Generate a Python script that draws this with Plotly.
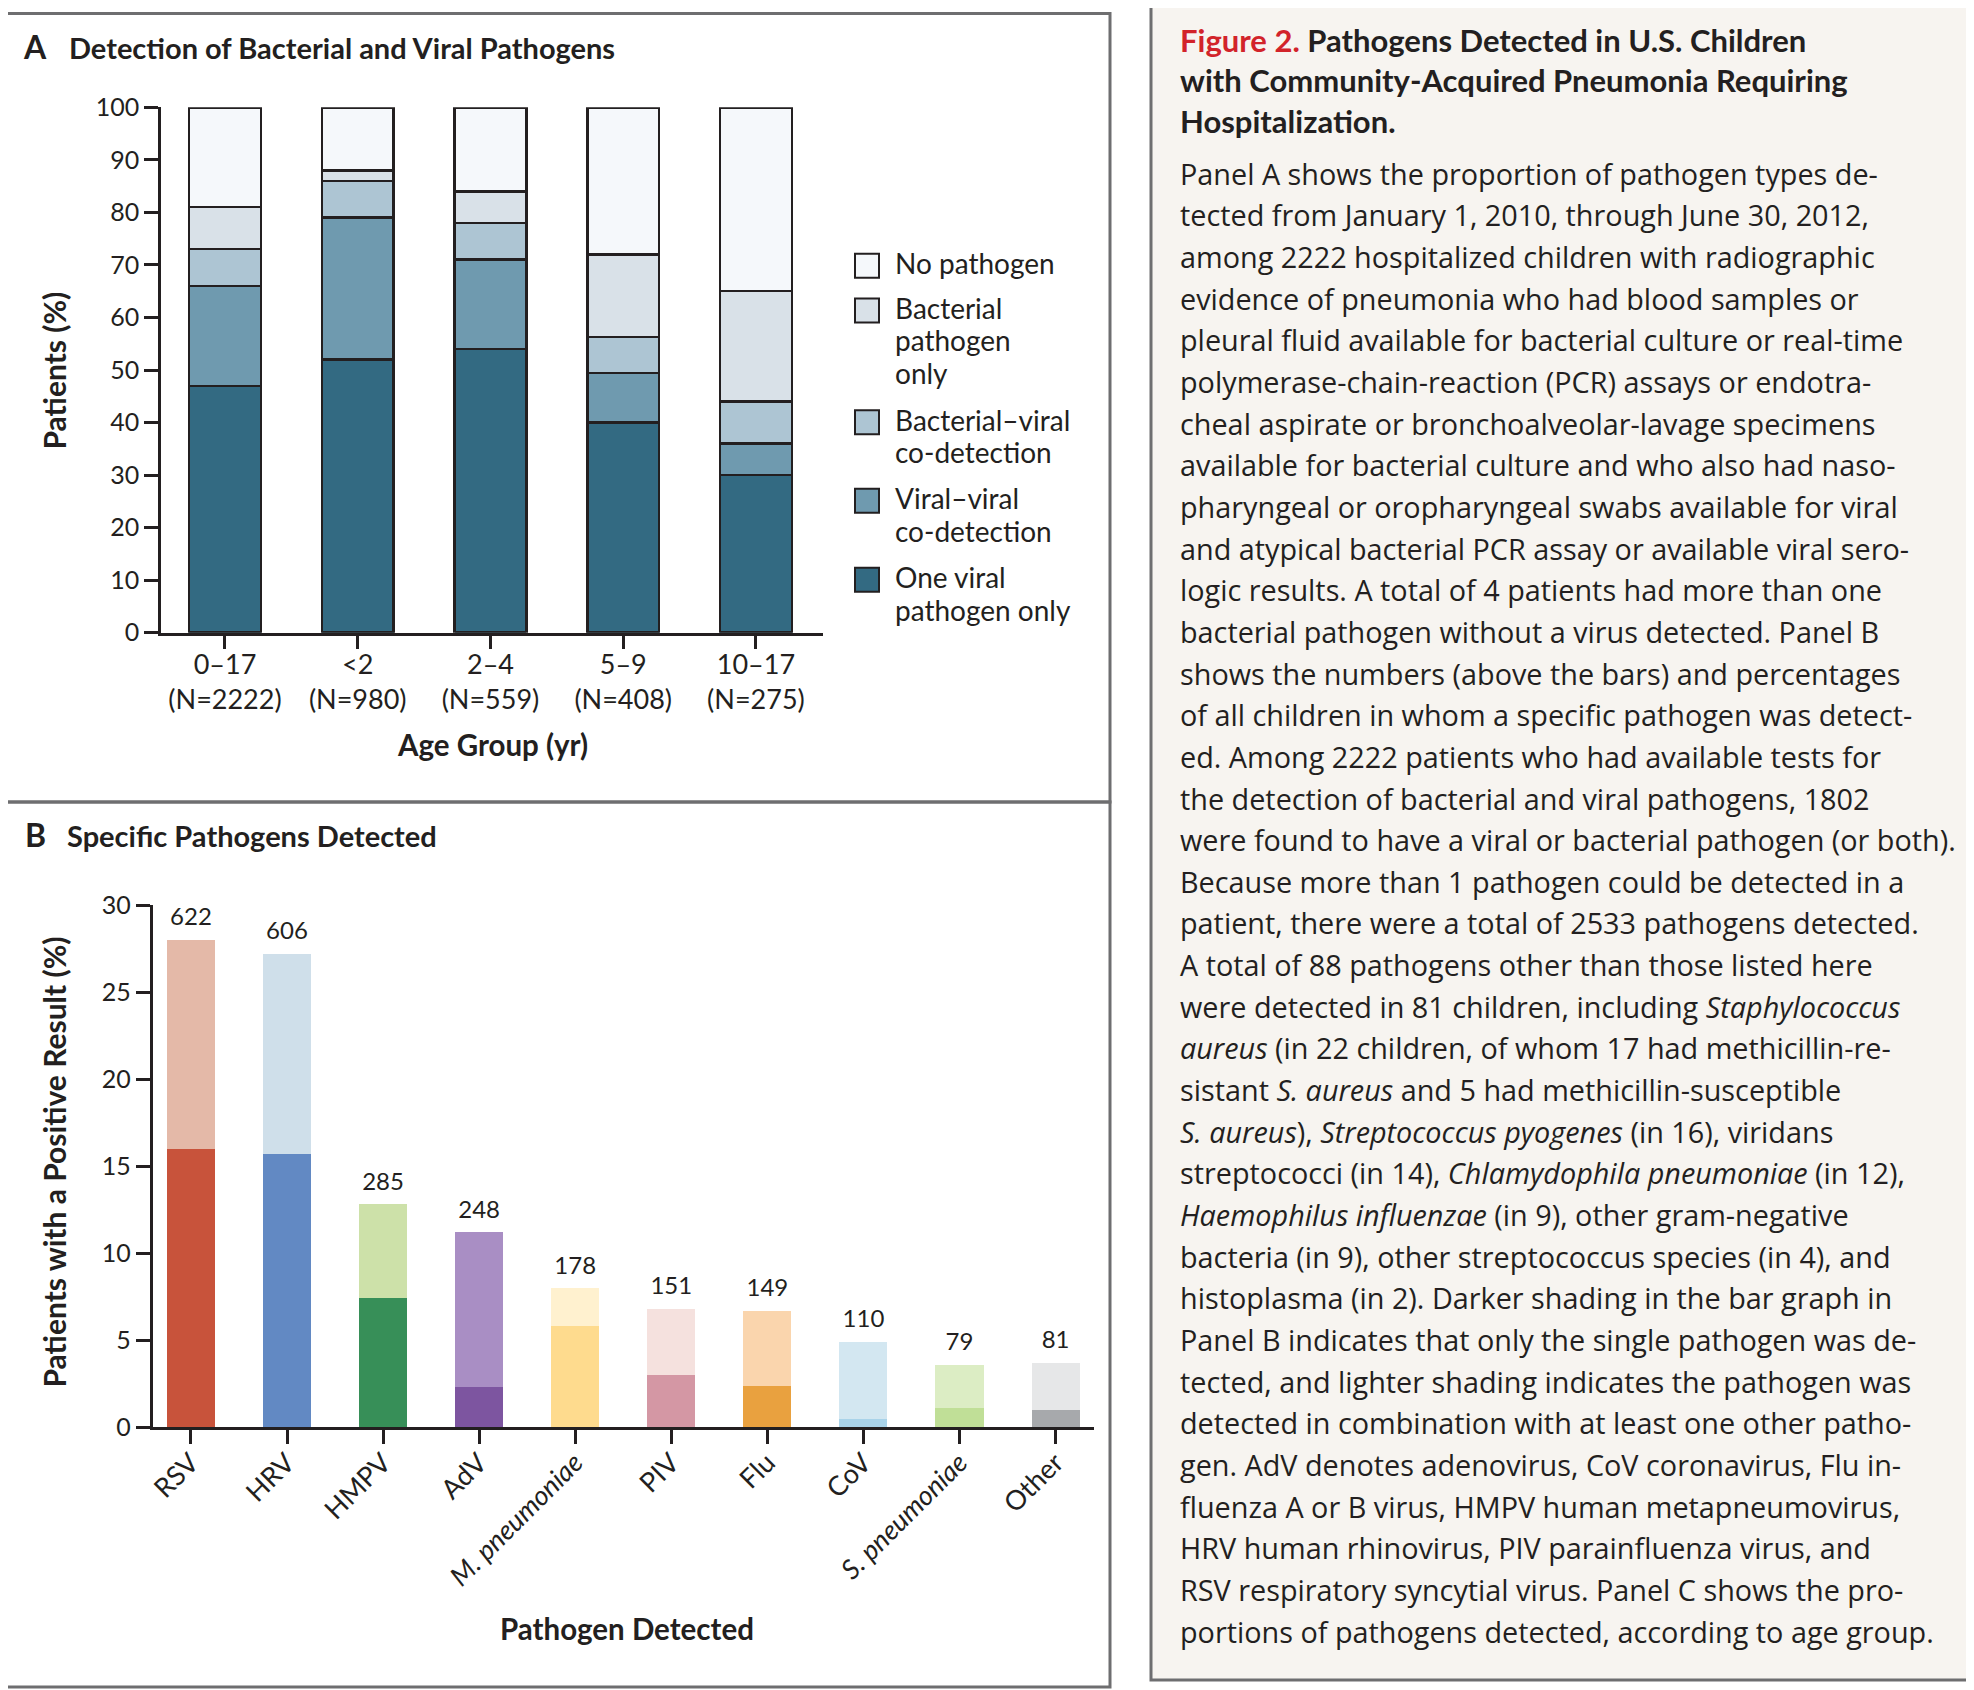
import plotly.graph_objects as go

# ---------------- data ----------------
age_groups = ["0–17", "&lt;2", "2–4", "5–9", "10–17"]
age_n = [2222, 980, 559, 408, 275]

# Panel A segments, bottom to top (percent of patients)
one_viral = [47, 52, 54, 40, 30]
viral_viral = [19, 27, 17, 9.4, 6]
bact_viral = [7, 7, 7, 6.9, 8]
bact_only = [8, 2, 6, 15.7, 21]
no_pathogen = [19, 12, 16, 28, 35]

seg_names = ["One viral pathogen only", "Viral–viral co-detection",
             "Bacterial–viral co-detection", "Bacterial pathogen only", "No pathogen"]
seg_colors = ["#336a82", "#6f9aaf", "#adc5d3", "#d9e1e8", "#f5f8fb"]
legend_lines = {
    "No pathogen": ["No pathogen"],
    "Bacterial pathogen only": ["Bacterial", "pathogen", "only"],
    "Bacterial–viral co-detection": ["Bacterial–viral", "co-detection"],
    "Viral–viral co-detection": ["Viral–viral", "co-detection"],
    "One viral pathogen only": ["One viral", "pathogen only"],
}

# Panel B
pathogens = ["RSV", "HRV", "HMPV", "AdV", "M. pneumoniae", "PIV", "Flu", "CoV",
             "S. pneumoniae", "Other"]
italic_names = {"M. pneumoniae", "S. pneumoniae"}
counts = [622, 606, 285, 248, 178, 151, 149, 110, 79, 81]
single_pct = [16.0, 15.7, 7.4, 2.3, 5.8, 3.0, 2.4, 0.5, 1.1, 1.0]
combined_pct = [12.0, 11.5, 5.4, 8.9, 2.2, 3.8, 4.3, 4.4, 2.5, 2.7]
dark_colors = ["#c8533b", "#6289c3", "#378f58", "#7d55a0", "#fedb8e",
               "#d497a4", "#e9a13f", "#a9d3e9", "#c0df97", "#a7a9ac"]
light_colors = ["#e4b9a8", "#cfdfea", "#cde1a9", "#a98ec4", "#fff1cf",
                "#f5e1de", "#fad5ad", "#d3e7f1", "#dcedc4", "#e6e7e8"]

caption_title = [
    "<span style='color:#d2232a'>Figure 2.</span> Pathogens Detected in U.S. Children",
    "with Community-Acquired Pneumonia Requiring",
    "Hospitalization.",
]
caption_body = [
    "Panel A shows the proportion of pathogen types de-",
    "tected from January 1, 2010, through June 30, 2012,",
    "among 2222 hospitalized children with radiographic",
    "evidence of pneumonia who had blood samples or",
    "pleural fluid available for bacterial culture or real-time",
    "polymerase-chain-reaction (PCR) assays or endotra-",
    "cheal aspirate or bronchoalveolar-lavage specimens",
    "available for bacterial culture and who also had naso-",
    "pharyngeal or oropharyngeal swabs available for viral",
    "and atypical bacterial PCR assay or available viral sero-",
    "logic results. A total of 4 patients had more than one",
    "bacterial pathogen without a virus detected. Panel B",
    "shows the numbers (above the bars) and percentages",
    "of all children in whom a specific pathogen was detect-",
    "ed. Among 2222 patients who had available tests for",
    "the detection of bacterial and viral pathogens, 1802",
    "were found to have a viral or bacterial pathogen (or both).",
    "Because more than 1 pathogen could be detected in a",
    "patient, there were a total of 2533 pathogens detected.",
    "A total of 88 pathogens other than those listed here",
    "were detected in 81 children, including <i>Staphylococcus</i>",
    "<i>aureus</i> (in 22 children, of whom 17 had methicillin-re-",
    "sistant <i>S. aureus</i> and 5 had methicillin-susceptible",
    "<i>S. aureus</i>), <i>Streptococcus pyogenes</i> (in 16), viridans",
    "streptococci (in 14), <i>Chlamydophila pneumoniae</i> (in 12),",
    "<i>Haemophilus influenzae</i> (in 9), other gram-negative",
    "bacteria (in 9), other streptococcus species (in 4), and",
    "histoplasma (in 2). Darker shading in the bar graph in",
    "Panel B indicates that only the single pathogen was de-",
    "tected, and lighter shading indicates the pathogen was",
    "detected in combination with at least one other patho-",
    "gen. AdV denotes adenovirus, CoV coronavirus, Flu in-",
    "fluenza A or B virus, HMPV human metapneumovirus,",
    "HRV human rhinovirus, PIV parainfluenza virus, and",
    "RSV respiratory syncytial virus. Panel C shows the pro-",
    "portions of pathogens detected, according to age group.",
]

# ---------------- layout helpers ----------------
W, H = 1974, 1690
OFF = 8  # page body margin in the browser
def X(px):
    return (px - OFF) / W
def Y(py):
    return 1 - (py - OFF) / H

INK = "#231f20"
CHART_FONT = "Lato, 'DejaVu Sans', sans-serif"
BODY_FONT = "'Open Sans', 'Noto Sans', sans-serif"

fig = go.Figure()

# ---------------- Panel A ----------------
a_labels = [f"{g}<br>(N={n})" for g, n in zip(age_groups, age_n)]
a_series = [one_viral, viral_viral, bact_viral, bact_only, no_pathogen]
for name, vals, col in zip(seg_names, a_series, seg_colors):
    fig.add_trace(go.Bar(
        x=a_labels, y=vals, name=name, width=0.54,
        marker=dict(color=col, line=dict(color=INK, width=2.5)),
        xaxis="x", yaxis="y", cliponaxis=False, showlegend=False,
    ))

# ---------------- Panel B ----------------
fig.add_trace(go.Bar(
    x=pathogens, y=single_pct, width=0.5, name="Single pathogen",
    marker=dict(color=dark_colors, line=dict(width=0)),
    xaxis="x2", yaxis="y2", showlegend=False,
))
fig.add_trace(go.Bar(
    x=pathogens, y=combined_pct, width=0.5, name="With other pathogens",
    marker=dict(color=light_colors, line=dict(width=0)),
    xaxis="x2", yaxis="y2", showlegend=False,
))
totals = [s + c for s, c in zip(single_pct, combined_pct)]
fig.add_trace(go.Scatter(
    x=pathogens, y=totals, text=[str(c) for c in counts], mode="markers+text",
    marker=dict(size=12, opacity=0),
    textposition="top center", textfont=dict(family=CHART_FONT, size=24, color=INK),
    xaxis="x2", yaxis="y2", cliponaxis=False, showlegend=False, hoverinfo="skip",
))

axis_common = dict(showline=True, linecolor=INK, linewidth=2.5, ticks="outside",
                   ticklen=14, tickwidth=2.5, tickcolor=INK, showgrid=False,
                   zeroline=False, fixedrange=True, automargin=False)

fig.update_layout(
    template="none",
    width=W, height=H, margin=dict(l=0, r=0, t=0, b=0, pad=0),
    paper_bgcolor="white", plot_bgcolor="rgba(0,0,0,0)",
    barmode="stack", showlegend=False,
    font=dict(family=CHART_FONT, color=INK),
    xaxis=dict(domain=[X(161), X(823)], anchor="y", type="category",
               range=[-0.482, 4.505], tickfont=dict(size=27),
               ticklabelstandoff=-8, **axis_common),
    yaxis=dict(domain=[Y(632.7), Y(107.3)], anchor="x", range=[0, 100], dtick=10,
               tickfont=dict(size=25), **axis_common),
    xaxis2=dict(domain=[X(152.5), X(1094)], anchor="y2", type="category",
                range=[-0.4, 9.4], tickangle=-45,
                tickvals=pathogens,
                ticktext=[f"<i>{p}</i>" if p in italic_names else p for p in pathogens],
                tickfont=dict(size=27), ticklabelstandoff=-8, **axis_common),
    yaxis2=dict(domain=[Y(1427.3), Y(905)], anchor="x2", range=[0, 30], dtick=5,
                tickfont=dict(size=25), **axis_common),
)

shapes = []
annotations = []
BORDER = "#6e6e70"
# panel frames
shapes.append(dict(type="rect", xref="paper", yref="paper", x0=X(1.5), x1=X(1110),
                   y0=Y(802), y1=Y(13.5), line=dict(color=BORDER, width=3)))
shapes.append(dict(type="rect", xref="paper", yref="paper", x0=X(1.5), x1=X(1110),
                   y0=Y(1687), y1=Y(802), line=dict(color=BORDER, width=3)))
# caption box
shapes.append(dict(type="rect", xref="paper", yref="paper", x0=X(1151), x1=X(1970.5),
                   y0=Y(1680), y1=Y(3), fillcolor="#f7f4f0",
                   line=dict(color=BORDER, width=3), layer="below"))

def text_at(txt, x, baseline, size, family=CHART_FONT, bold=False, xanchor="left",
            angle=0, color=INK):
    center = baseline - 0.39 * size
    annotations.append(dict(
        text=f"<b>{txt}</b>" if bold else txt, xref="paper", yref="paper",
        x=X(x), y=Y(center), xanchor=xanchor, yanchor="middle", showarrow=False,
        textangle=angle, font=dict(family=family, size=size, color=color)))

# panel titles
text_at("A", 20.5, 59.3, 32, bold=True)
text_at("Detection of Bacterial and Viral Pathogens", 66.5, 59.3, 29, bold=True)
text_at("B", 22.5, 846.7, 32, bold=True)
text_at("Specific Pathogens Detected", 65, 846.7, 29, bold=True)

# axis titles
annotations.append(dict(text="<b>Patients (%)</b>", xref="paper", yref="paper",
                        x=X(53), y=Y(370.5), xanchor="center", yanchor="middle",
                        textangle=-90, showarrow=False,
                        font=dict(family=CHART_FONT, size=30, color=INK)))
annotations.append(dict(text="<b>Patients with a Positive Result (%)</b>", xref="paper",
                        yref="paper", x=X(53), y=Y(1162.5), xanchor="center",
                        yanchor="middle", textangle=-90, showarrow=False,
                        font=dict(family=CHART_FONT, size=30, color=INK)))
text_at("Age Group (yr)", 492, 756, 29.5, bold=True, xanchor="center")
text_at("Pathogen Detected", 627, 1640, 29.5, bold=True, xanchor="center")

# legend for panel A (top to bottom = reverse stacking order)
legend_baselines = [274.3, 319.0, 430.7, 509.3, 588.3]
line_step = 32.4
for name, base in zip(reversed(seg_names), legend_baselines):
    col = seg_colors[seg_names.index(name)]
    shapes.append(dict(type="rect", xref="paper", yref="paper",
                       x0=X(855), x1=X(879), y0=Y(base + 3.5), y1=Y(base - 20.5),
                       fillcolor=col, line=dict(color=INK, width=2)))
    for k, ln in enumerate(legend_lines[name]):
        text_at(ln, 892.5, base + k * line_step, 28)

# caption
for i, ln in enumerate(caption_title):
    text_at(ln, 1177.5, 51.7 + i * 40.5, 31, bold=True)
for i, ln in enumerate(caption_body):
    text_at(ln, 1177.5, 184.5 + i * 41.65, 28.8, family=BODY_FONT)

fig.update_layout(shapes=shapes, annotations=annotations)
fig.write_html("out.html")
